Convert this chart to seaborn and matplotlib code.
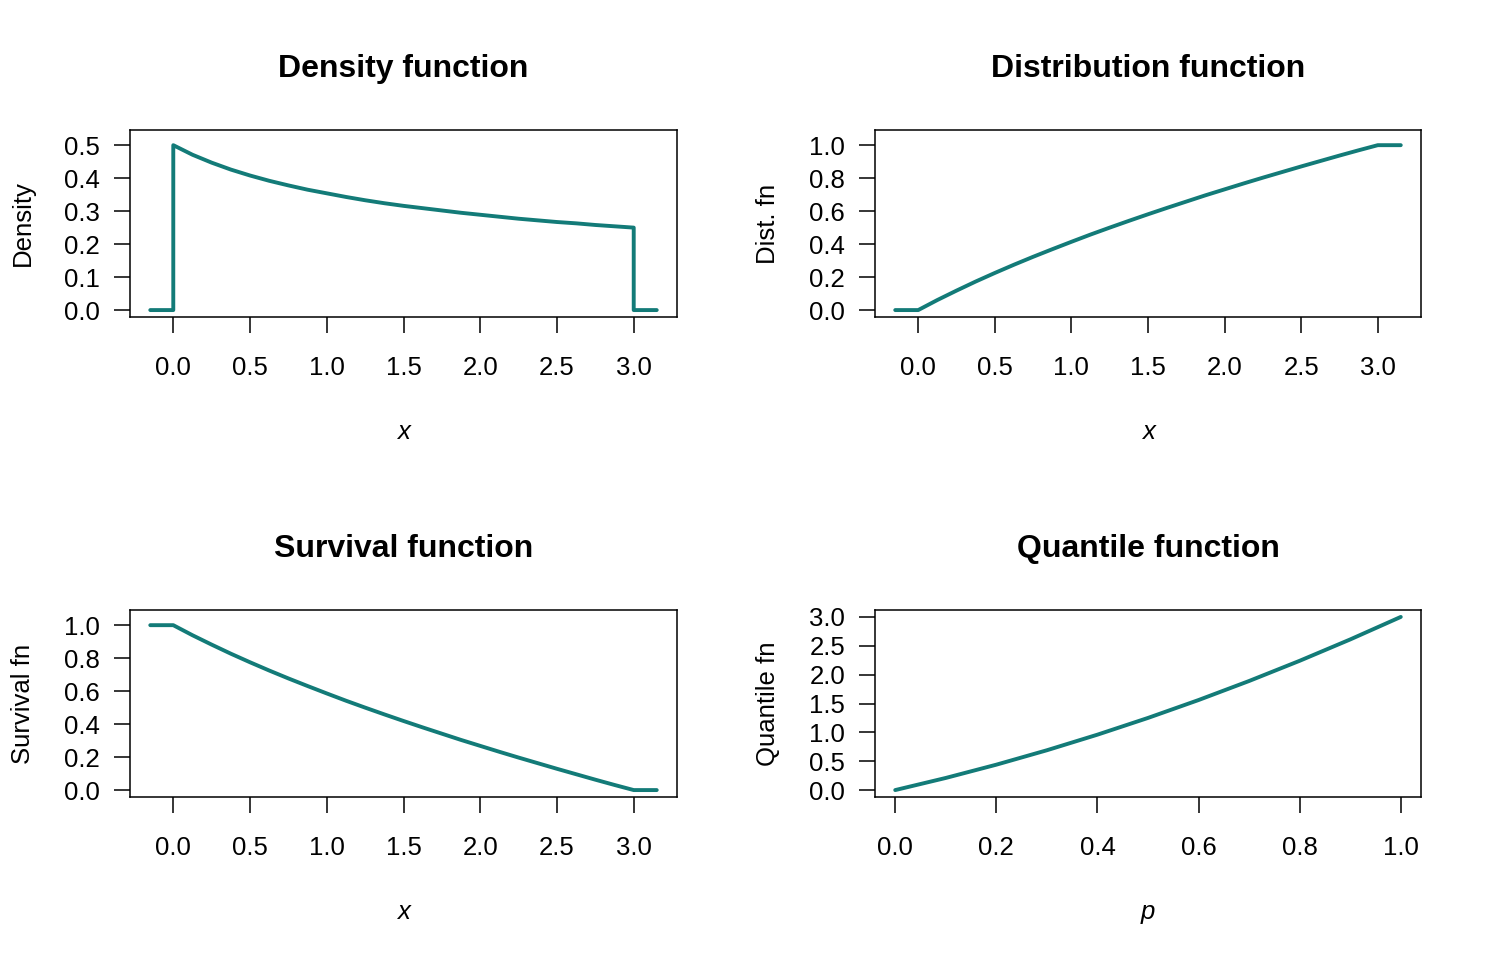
import matplotlib
matplotlib.use("Agg")
import matplotlib.pyplot as plt
import seaborn as sns

# values
x_pts = [0.0, 0.125, 0.25, 0.375, 0.5, 0.625, 0.75, 0.875, 1.0, 1.125, 1.25, 1.375, 1.5,
         1.625, 1.75, 1.875, 2.0, 2.125, 2.25, 2.375, 2.5, 2.625, 2.75, 2.875, 3.0]
density = [0.500, 0.471, 0.447, 0.426, 0.408, 0.392, 0.378, 0.365, 0.354, 0.343, 0.333, 0.324, 0.316,
           0.309, 0.302, 0.295, 0.289, 0.283, 0.277, 0.272, 0.267, 0.263, 0.258, 0.254, 0.250]
dist_fn = [0.0, 0.061, 0.118, 0.173, 0.225, 0.275, 0.323, 0.369, 0.414, 0.458, 0.500, 0.541, 0.581,
           0.620, 0.658, 0.696, 0.732, 0.768, 0.803, 0.837, 0.871, 0.904, 0.937, 0.969, 1.0]
surv_fn = [1.0, 0.939, 0.882, 0.827, 0.775, 0.725, 0.677, 0.631, 0.586, 0.542, 0.500, 0.459, 0.419,
           0.380, 0.342, 0.304, 0.268, 0.232, 0.197, 0.163, 0.129, 0.096, 0.063, 0.031, 0.0]
p_pts = [0.0, 0.1, 0.2, 0.3, 0.4, 0.5, 0.6, 0.7, 0.8, 0.9, 1.0]
quant_fn = [0.0, 0.21, 0.44, 0.69, 0.96, 1.25, 1.56, 1.89, 2.24, 2.61, 3.0]
x_lo, x_hi = -0.15, 3.15

line_col = "#137B78"

sns.set_style("white")
plt.rcParams['font.family'] = ['Liberation Sans', 'DejaVu Sans']
plt.rcParams['axes.edgecolor'] = 'black'
plt.rcParams['axes.linewidth'] = 1.1
plt.rcParams['text.color'] = 'black'
plt.rcParams['axes.labelcolor'] = 'black'
plt.rcParams['axes.titlecolor'] = 'black'

fig = plt.figure(figsize=(14.88, 9.6), dpi=100)

W, H = 1488, 960
def panel(l, t, r, b):
    return fig.add_axes([l / W, 1 - b / H, (r - l) / W, (b - t) / H])

panels = [
    (panel(130, 130, 677, 317), [x_lo, 0] + x_pts + [3.0, x_hi], [0, 0] + density + [0, 0],
     "Density function", "x", "Density", [0, 0.1, 0.2, 0.3, 0.4, 0.5], True),
    (panel(875, 130, 1421, 317), [x_lo] + x_pts + [x_hi], [0] + dist_fn + [1],
     "Distribution function", "x", "Dist. fn", [0, 0.2, 0.4, 0.6, 0.8, 1.0], True),
    (panel(130, 610, 677, 797), [x_lo] + x_pts + [x_hi], [1] + surv_fn + [0],
     "Survival function", "x", "Survival fn", [0, 0.2, 0.4, 0.6, 0.8, 1.0], True),
    (panel(875, 610, 1421, 797), p_pts, quant_fn,
     "Quantile function", "p", "Quantile fn", [0, 0.5, 1.0, 1.5, 2.0, 2.5, 3.0], False),
]

for ax, xs, ys, title, xlab, ylab, yt, headroom in panels:
    sns.lineplot(x=xs, y=ys, ax=ax, color=line_col, linewidth=2.8,
                 estimator=None, sort=False)
    # R style 4% padding
    xr = max(xs) - min(xs)
    ax.set_xlim(min(xs) - 0.04 * xr, max(xs) + 0.04 * xr)
    y0, y1 = min(ys), max(ys)
    if headroom:
        y1 = 1.05 * y1
    yr = y1 - y0
    ax.set_ylim(y0 - 0.04 * yr, y1 + 0.04 * yr)
    if xlab == "p":
        xt = [0, 0.2, 0.4, 0.6, 0.8, 1.0]
    else:
        xt = [0, 0.5, 1.0, 1.5, 2.0, 2.5, 3.0]
    ax.set_xticks(xt)
    ax.set_xticklabels(["{:.1f}".format(v) for v in xt])
    ax.set_yticks(yt)
    ax.set_yticklabels(["{:.1f}".format(v) for v in yt])
    ax.tick_params(axis='both', direction='out', length=11.5, width=1.1,
                   labelsize=18.5, color='black', labelcolor='black',
                   bottom=True, left=True)
    ax.tick_params(axis='x', pad=16.5)
    ax.tick_params(axis='y', pad=10)
    ax.set_title(title, fontsize=23, fontweight='bold', pad=38)
    ax.set_xlabel(xlab, fontsize=18.5, style='italic', labelpad=29)
    ax.set_ylabel(ylab, fontsize=18.5, labelpad=21)
    for s in ax.spines.values():
        s.set_visible(True)
        s.set_color('black')

fig.savefig("out.png", dpi=100, facecolor='white')
